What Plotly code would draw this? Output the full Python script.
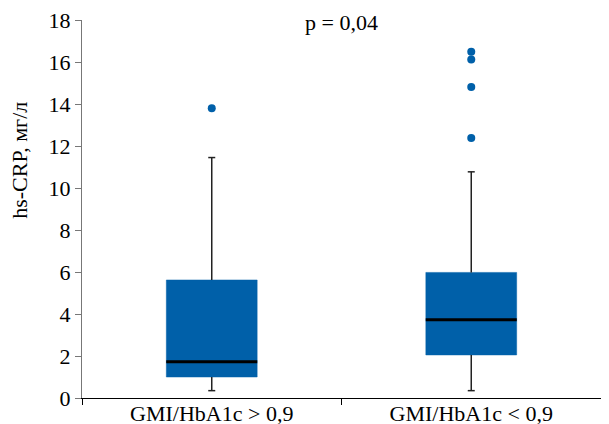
import plotly.graph_objects as go

categories = ["GMI/HbA1c > 0,9", "GMI/HbA1c < 0,9"]
q1 = [1.0, 2.05]
median = [1.73, 3.73]
q3 = [5.62, 5.98]
lower_whisker = [0.35, 0.35]
upper_whisker = [11.45, 10.77]
outliers_1 = [13.8]
outliers_2 = [16.49, 16.12, 14.81, 12.38]
p_label = "p = 0,04"
y_title = "hs-CRP, мг/л"

BLUE = "#0060a9"
FONT = "Liberation Serif"
FS = 22
BOX_W = 0.35

fig = go.Figure()

fig.add_trace(go.Box(
    x=categories, q1=q1, median=median, q3=q3,
    lowerfence=q1, upperfence=q3,
    fillcolor=BLUE, line=dict(color=BLUE, width=0.5),
    whiskerwidth=0, width=BOX_W, boxpoints=False, showlegend=False,
    hoverinfo="skip",
))

# whiskers
wx, wy = [], []
for c, lo, a, b, hi in zip(categories, lower_whisker, q1, q3, upper_whisker):
    wx += [c, c, None, c, c, None]
    wy += [lo, a, None, b, hi, None]
fig.add_trace(go.Scatter(
    x=wx, y=wy, mode="lines", line=dict(color="#222222", width=1.5),
    showlegend=False, hoverinfo="skip", cliponaxis=False,
))
# whisker caps
fig.add_trace(go.Scatter(
    x=categories + categories, y=lower_whisker + upper_whisker, mode="markers",
    marker=dict(symbol="line-ew", size=5, line=dict(color="#222222", width=1.5)),
    showlegend=False, hoverinfo="skip", cliponaxis=False,
))
# medians
fig.add_trace(go.Scatter(
    x=categories, y=median, mode="markers",
    marker=dict(symbol="line-ew", size=65, line=dict(color="black", width=3)),
    showlegend=False, hoverinfo="skip",
))
# outliers
fig.add_trace(go.Scatter(
    x=[categories[0]] * len(outliers_1) + [categories[1]] * len(outliers_2),
    y=outliers_1 + outliers_2, mode="markers",
    marker=dict(color=BLUE, size=8), showlegend=False, hoverinfo="skip",
))

fig.add_annotation(
    text=p_label, x=0.5, xref="paper", y=18, yref="y", yshift=-2,
    showarrow=False, font=dict(family=FONT, size=FS, color="black"),
    yanchor="middle",
)
fig.add_annotation(
    text=y_title, x=-0.1195, xref="paper", y=0.63, yref="paper",
    textangle=-90, showarrow=False, xanchor="center", yanchor="middle",
    font=dict(family=FONT, size=FS, color="black"),
)

# note: the page body adds an 8px margin, so the figure is sized to fit
fig.update_layout(
    width=601, height=416,
    margin=dict(l=74, r=8, t=12, b=26),
    paper_bgcolor="white", plot_bgcolor="white",
    font=dict(family=FONT, size=FS, color="black"),
)
fig.update_xaxes(
    type="category", range=[-0.5, 1.5], tickson="boundaries",
    ticks="outside", ticklen=6, ticklabelstandoff=-4,
    tickcolor="black", showline=True, linecolor="black", linewidth=1,
    showgrid=False, tickfont=dict(family=FONT, size=FS, color="black"),
    automargin=False, ticklabeloverflow="allow",
)
fig.update_yaxes(
    range=[0, 18], dtick=2, ticks="outside", ticklen=6, tickcolor="#777777",
    showline=True, linecolor="#777777", linewidth=1, showgrid=False,
    zeroline=False, automargin=False, ticklabeloverflow="allow",
    tickfont=dict(family=FONT, size=FS, color="black"),
)

fig.write_html("out.html")
